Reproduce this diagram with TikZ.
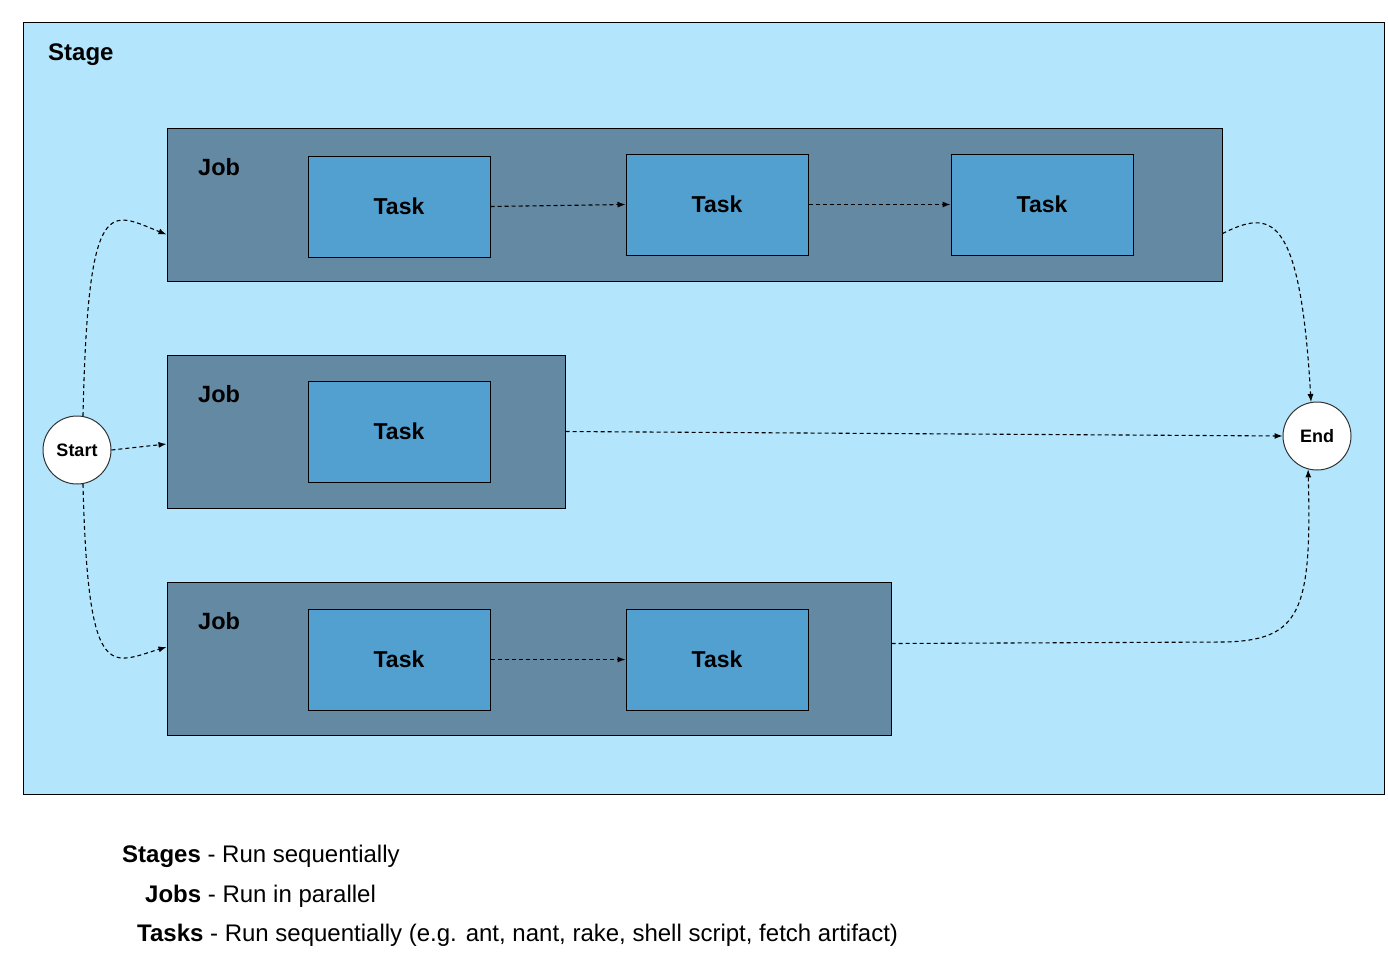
\documentclass[tikz,border=0pt]{standalone}
\usepackage{fontspec}
\setmainfont{Liberation Sans}
\usetikzlibrary{arrows.meta}
\definecolor{stageblue}{RGB}{179,229,252}
\definecolor{jobgray}{RGB}{99,137,163}
\definecolor{taskblue}{RGB}{82,160,208}

\begin{document}
\begin{tikzpicture}[x=1pt,y=-1pt,
  stagebox/.style={draw,fill=stageblue,line width=1pt,minimum width=1361pt,minimum height=772pt,inner sep=0pt},
  jobbox/.style={draw,fill=jobgray,line width=1pt,minimum height=153pt,inner sep=0pt},
  taskbox/.style={draw,fill=taskblue,line width=1pt,minimum width=182pt,minimum height=101pt,inner sep=0pt,font=\fontsize{23}{27}\selectfont\bfseries},
  endpt/.style={circle,draw=black!80,fill=white,line width=1pt,minimum size=68pt,inner sep=0pt,font=\fontsize{18}{21}\selectfont\bfseries},
  lbl/.style={anchor=west,inner sep=0pt,font=\fontsize{23.5}{27}\selectfont\bfseries},
  flow/.style={dash pattern=on 4pt off 3pt,line width=1.1pt,-{Latex[length=8pt,width=6pt]}},
  legend/.style={anchor=base west,inner sep=0pt,font=\fontsize{24}{28}\selectfont}]
\fill[white] (0,0) rectangle (1388,956);
\useasboundingbox (0,0) rectangle (1388,956);
%stage
\node[stagebox] (stage) at (703.5,408) {};
\node[lbl,font=\fontsize{24}{28}\selectfont\bfseries] (stagelbl) at (48,55) {Stage};
%jobs
\node[jobbox,minimum width=1055pt] (job1) at (694.5,204.5) {};
\node[jobbox,minimum width=398pt] (job2) at (366,431.5) {};
\node[jobbox,minimum width=724pt] (job3) at (529,658.5) {};
\node[lbl] (job1lbl) at (198,167) {Job};
\node[lbl] (job2lbl) at (198,394) {Job};
\node[lbl] (job3lbl) at (198,621) {Job};
%tasks
\node[taskbox] (task1a) at (399,206.5) {Task};
\node[taskbox] (task1b) at (717,204.5) {Task};
\node[taskbox] (task1c) at (1042,204.5) {Task};
\node[taskbox] (task2) at (399,431.5) {Task};
\node[taskbox] (task3a) at (399,659.5) {Task};
\node[taskbox] (task3b) at (717,659.5) {Task};
%start and end
\node[endpt] (start) at (77,450) {Start};
\node[endpt] (end) at (1317,436) {End};
%connectors
\draw[flow] (task1a.east) -- (task1b.west);
\draw[flow] (task1b.east) -- (task1c.west);
\draw[flow] (task3a.east) -- (task3b.west);
\draw[flow] (start.80) .. controls (88,190) and (110,212) .. ([yshift=47pt]job1.south west);
\draw[flow] (start.east) -- ([yshift=-12.5pt]job2.west);
\draw[flow] (start.-80) .. controls (88,685) and (110,664) .. ([yshift=11.5pt]job3.west);
\draw[flow] ([yshift=48pt]job1.south east) .. controls (1270,210) and (1300,210) .. (end.100);
\draw[flow] (job2.east) -- (end.west);
\draw[flow] ([yshift=92pt]job3.south east) -- (1225,642) .. controls (1300,640) and (1312,612) .. (end.-105);
%explaination
\node[legend] (leg1) at (122,862) {\textbf{Stages} - Run sequentially};
\node[legend] (leg2) at (145,902) {\textbf{Jobs} - Run in parallel};
\node[legend] (leg3) at (137,941) {\textbf{Tasks} - Run sequentially (e.g. ant, nant, rake, shell script, fetch artifact)};
\end{tikzpicture}
\end{document}
